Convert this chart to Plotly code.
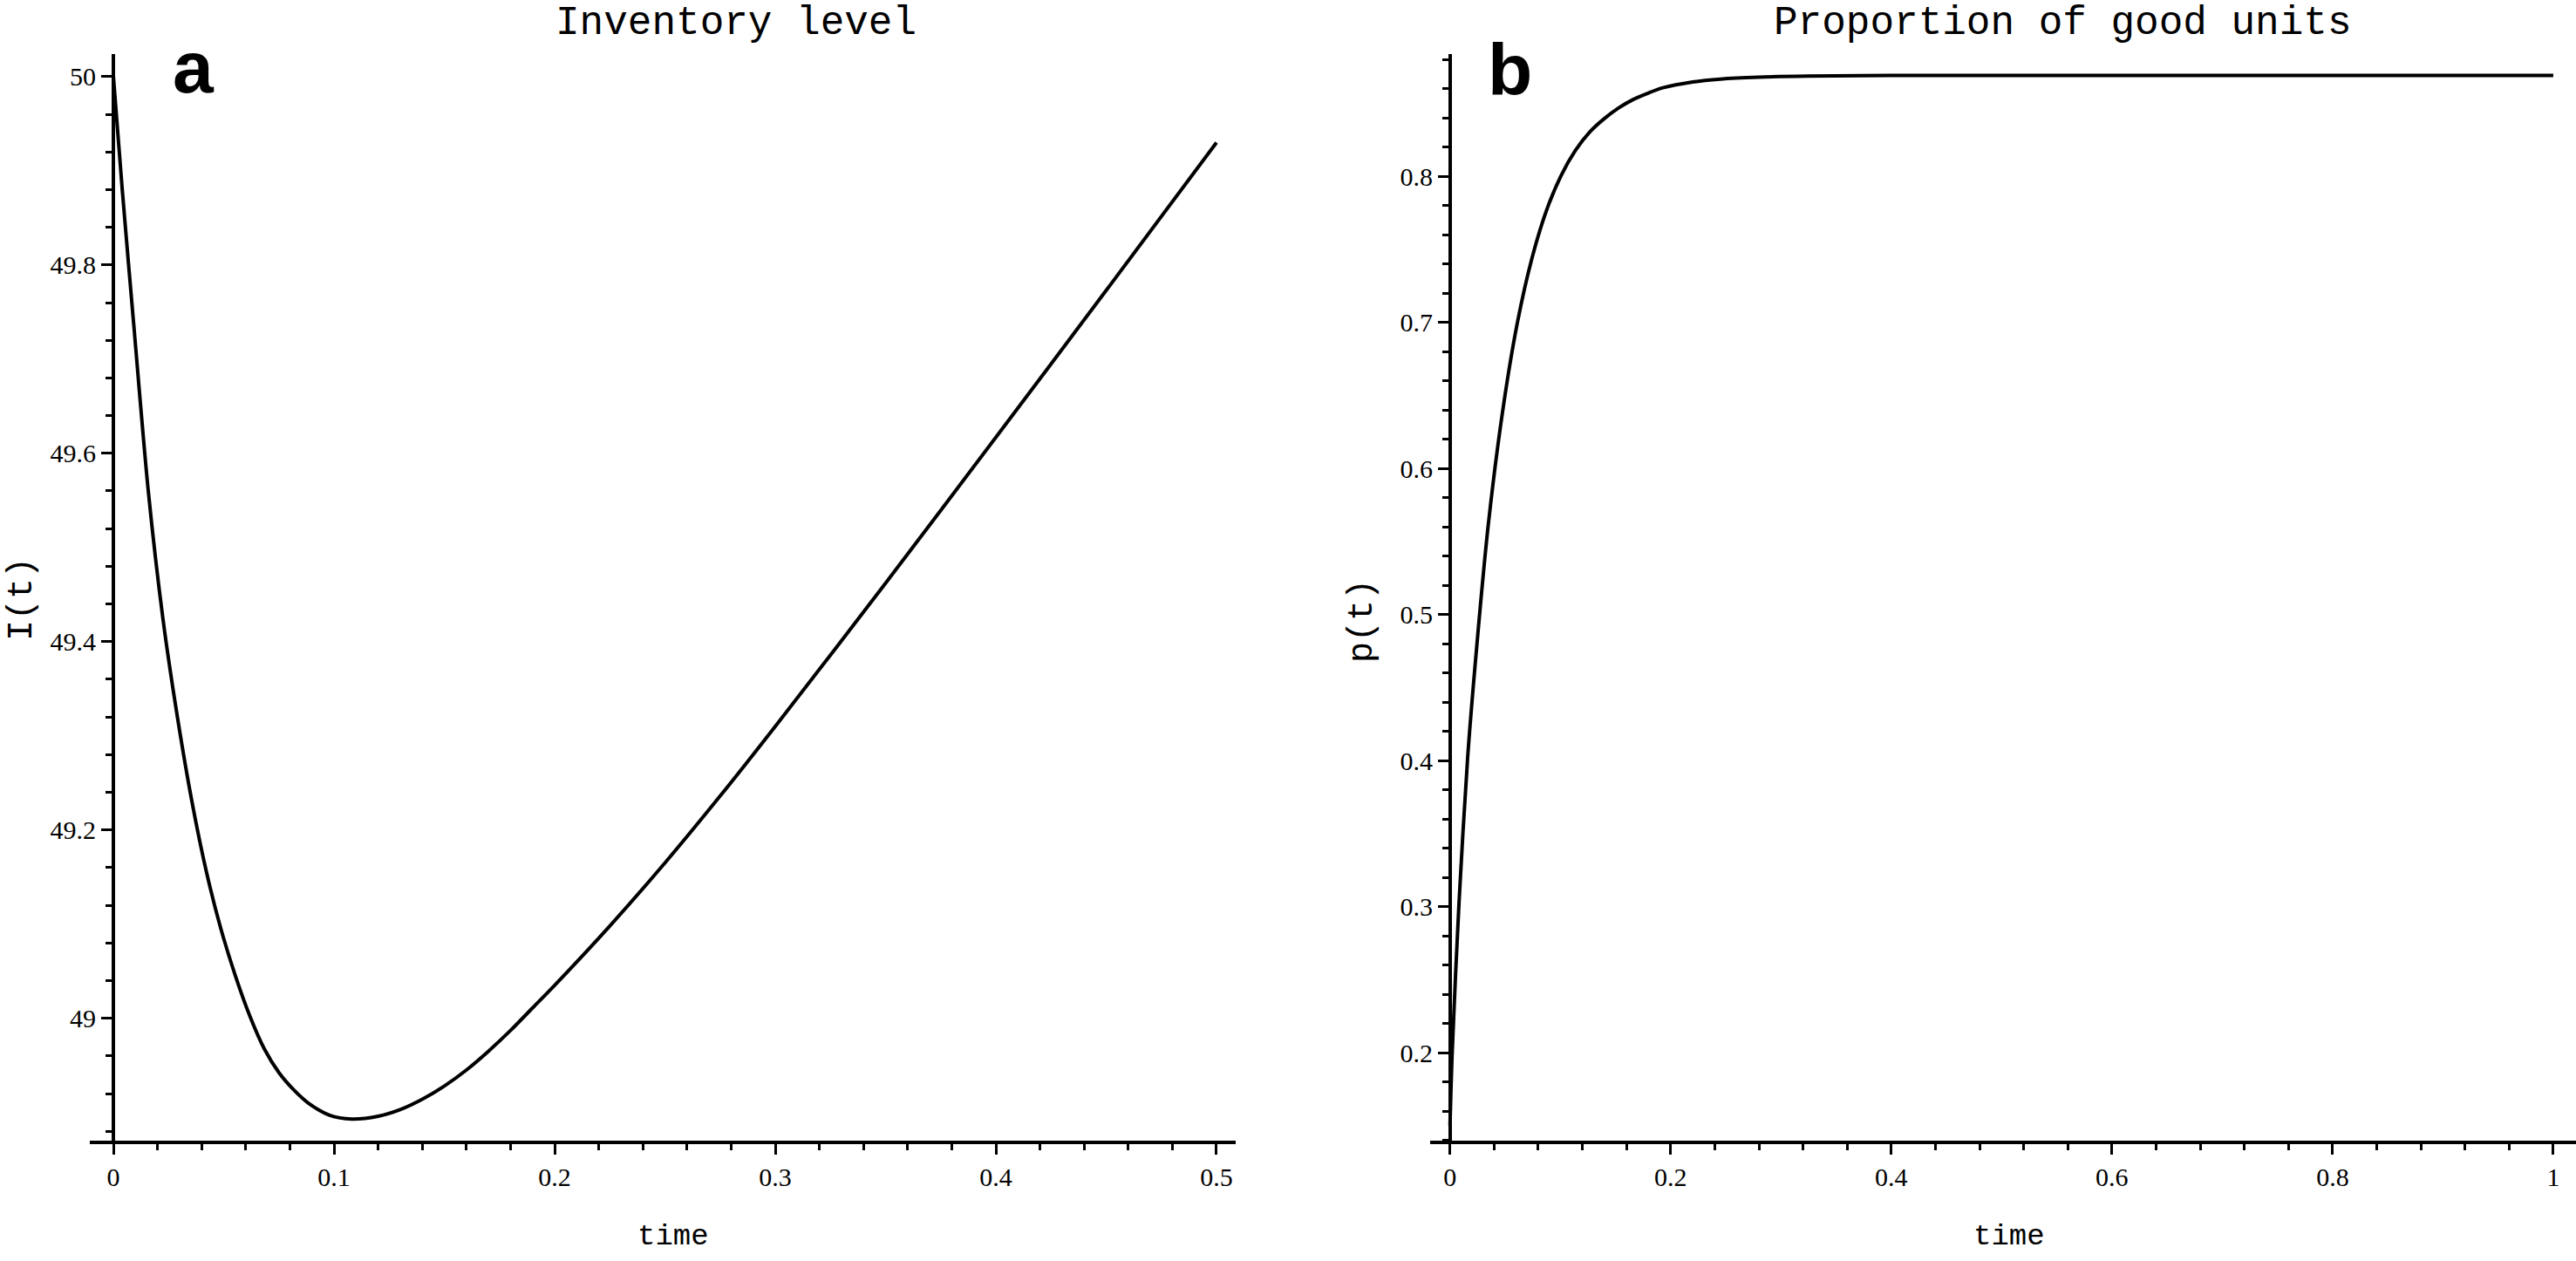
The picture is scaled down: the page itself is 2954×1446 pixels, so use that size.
import plotly.graph_objects as go

# ---------------- data ----------------
t_inv = [0, 0.004, 0.0092, 0.0158, 0.0224, 0.029, 0.0356, 0.0422, 0.0487, 0.0553,
         0.0619, 0.0685, 0.0751, 0.0817, 0.0883, 0.098, 0.108, 0.12, 0.13, 0.14,
         0.15, 0.16, 0.17, 0.18, 0.19, 0.2, 0.225, 0.25, 0.275, 0.3,
         0.35, 0.4, 0.45, 0.5]
inv_level = [50.0, 49.88, 49.737, 49.56, 49.425, 49.32, 49.23, 49.155, 49.095, 49.045,
             49.002, 48.967, 48.942, 48.924, 48.910, 48.897, 48.893, 48.896, 48.903, 48.914,
             48.928, 48.945, 48.965, 48.987, 49.011, 49.035, 49.098, 49.165, 49.236, 49.310,
             49.462, 49.617, 49.773, 49.930]

t_prop = [0, 0.002, 0.0082, 0.016, 0.024, 0.0345, 0.0477, 0.0609, 0.074, 0.0872,
          0.1004, 0.1136, 0.127, 0.14, 0.153, 0.166, 0.18, 0.193, 0.22, 0.245,
          0.28, 0.324, 0.4, 0.6, 0.8, 1.0]
prop_good = [0.15, 0.20, 0.303, 0.402, 0.476, 0.560, 0.639, 0.699, 0.743, 0.776,
             0.800, 0.8175, 0.8305, 0.8395, 0.8468, 0.8525, 0.857, 0.8605, 0.8645, 0.8665,
             0.8678, 0.8685, 0.869, 0.869, 0.869, 0.869]

inv_ticks = [49, 49.2, 49.4, 49.6, 49.8, 50]
inv_ticklabels = ["49", "49.2", "49.4", "49.6", "49.8", "50"]
inv_xticks = [0, 0.1, 0.2, 0.3, 0.4, 0.5]
prop_ticks = [0.2, 0.3, 0.4, 0.5, 0.6, 0.7, 0.8]
prop_xticks = [0, 0.2, 0.4, 0.6, 0.8, 1]

titles = ["Inventory level", "Proportion of good units"]
ylabels = ["I(t)", "p(t)"]
xlabel = "time"
panel_letters = ["a", "b"]

# ---------------- figure ----------------
W, H = 2954, 1446
def px(x):
    return x / W
def py(y):
    return (H - y) / H

fig = go.Figure()
fig.add_trace(go.Scatter(x=t_inv, y=inv_level, mode="lines",
                         line=dict(color="black", width=4, shape="spline", smoothing=0.8),
                         xaxis="x", yaxis="y", showlegend=False))
fig.add_trace(go.Scatter(x=t_prop, y=prop_good, mode="lines",
                         line=dict(color="black", width=4, shape="spline", smoothing=0.8),
                         xaxis="x2", yaxis="y2", showlegend=False))

tickfont = dict(family="Liberation Serif, Times New Roman, serif", size=30, color="black")
mono = "Courier New, Liberation Mono, monospace"

common_axis = dict(showgrid=False, zeroline=False, showline=True, linecolor="black",
                   linewidth=4, ticks="outside", ticklen=12, tickwidth=3, tickcolor="black",
                   tickfont=tickfont)

ydom = [py(1308), py(62)]

fig.update_layout(
    width=W, height=H, margin=dict(l=0, r=0, t=0, b=0),
    paper_bgcolor="white", plot_bgcolor="white",
    xaxis=dict(domain=[px(103), px(1417)], range=[-0.0107, 0.5087], anchor="y",
               tickvals=inv_xticks, ticktext=[str(v) for v in inv_xticks],
               minor=dict(dtick=0.02, tick0=0, ticks="outside", ticklen=7, tickwidth=3,
                          tickcolor="black"),
               **common_axis),
    yaxis=dict(domain=ydom, range=[48.870, 50.024], anchor="free", position=px(130),
               tickvals=inv_ticks, ticktext=inv_ticklabels,
               minor=dict(dtick=0.04, tick0=49, ticks="outside", ticklen=7, tickwidth=3,
                          tickcolor="black"),
               **common_axis),
    xaxis2=dict(domain=[px(1640), 1.0], range=[-0.018, 1.0206], anchor="y2",
                tickvals=prop_xticks, ticktext=[str(v) for v in prop_xticks],
                minor=dict(dtick=0.04, tick0=0, ticks="outside", ticklen=7, tickwidth=3,
                           tickcolor="black"),
                **common_axis),
    yaxis2=dict(domain=ydom, range=[0.1397, 0.8836], anchor="free", position=px(1663),
                tickvals=prop_ticks, ticktext=[str(v) for v in prop_ticks],
                minor=dict(dtick=0.02, tick0=0.2, ticks="outside", ticklen=7, tickwidth=3,
                           tickcolor="black"),
                **common_axis),
)

ann = []
# titles
for txt, cx in zip(titles, [844, 2365]):
    ann.append(dict(text=txt, x=px(cx), y=py(27), xref="paper", yref="paper",
                    xanchor="center", yanchor="middle", showarrow=False,
                    font=dict(family=mono, size=46, color="black")))
# y labels
for txt, cx, cy in zip(ylabels, [25, 1562], [687, 712]):
    ann.append(dict(text=txt, x=px(cx), y=py(cy), xref="paper", yref="paper",
                    xanchor="center", yanchor="middle", showarrow=False, textangle=-90,
                    font=dict(family=mono, size=40, color="black")))
# x labels
for cx in [772, 2304]:
    ann.append(dict(text=xlabel, x=px(cx), y=py(1418), xref="paper", yref="paper",
                    xanchor="center", yanchor="middle", showarrow=False,
                    font=dict(family=mono, size=34, color="black")))
# panel letters
for txt, cx, cy in zip(panel_letters, [222, 1731], [77, 80]):
    ann.append(dict(text="<b>" + txt + "</b>", x=px(cx), y=py(cy), xref="paper", yref="paper",
                    xanchor="center", yanchor="middle", showarrow=False,
                    font=dict(family="Liberation Sans, Arial, sans-serif", size=84, color="black")))
fig.update_layout(annotations=ann)

fig.write_html("out.html")
